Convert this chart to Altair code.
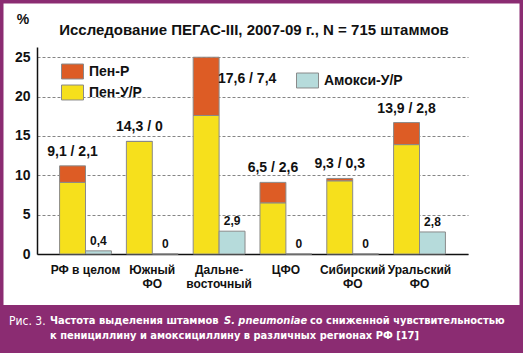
import altair as alt
import pandas as pd

# ---- data ----
regions = ["РФ в целом", "Южный\nФО", "Дальне-\nвосточный", "ЦФО", "Сибирский\nФО", "Уральский\nФО"]
pen_ur = [9.1, 14.3, 17.6, 6.5, 9.3, 13.9]   # Пен-У/Р
pen_r = [2.1, 0.0, 7.4, 2.6, 0.3, 2.8]       # Пен-Р
amox_ur = [0.4, 0.0, 2.9, 0.0, 0.0, 2.8]     # Амокси-У/Р
y_ticks = [0, 5, 10, 15, 20, 25]

title_text = "Исследование ПЕГАС-III, 2007-09 г., N = 715 штаммов"
cap_fig = "Рис. 3."
cap_a = "Частота выделения штаммов"
cap_b = "S. pneumoniae"
cap_c = "со сниженной чувствительностью"
cap_d = "к пенициллину и амоксициллину в различных регионах РФ [17]"

ORANGE = "#DD5C25"
YELLOW = "#F6E01C"
BLUE = "#B6DBDB"
PURPLE = "#8B2C72"
GRAY = "#8a8a8a"
FONT = "Liberation Sans"
NARROW = "Liberation Sans Narrow, DejaVu Sans Condensed, Roboto, sans-serif"


def fmt(v):
    return "0" if v == 0 else f"{v:.1f}".replace(".", ",")


pen_rows = []
for r, a, b in zip(regions, pen_ur, pen_r):
    pen_rows.append(dict(region=r, slot="pen", pen_series="Пен-У/Р", ord=0, value=a))
    pen_rows.append(dict(region=r, slot="pen", pen_series="Пен-Р", ord=1, value=b))
pen_df = pd.DataFrame(pen_rows)

amox_df = pd.DataFrame(dict(region=regions, slot="amox", amox_series="Амокси-У/Р",
                            value=amox_ur, label=[fmt(v) for v in amox_ur]))

lab_df = pd.DataFrame(dict(region=regions, slot="pen",
                           total=[a + b for a, b in zip(pen_ur, pen_r)],
                           label=[f"{fmt(a)} / {fmt(b)}" for a, b in zip(pen_ur, pen_r)]))

one = alt.Data(values=[{"a": 1}])

x_enc = alt.X("region:N", sort=regions,
              scale=alt.Scale(paddingInner=0.224, paddingOuter=0.338),
              axis=alt.Axis(title=None, labelExpr="split(datum.value, '\\n')",
                            labelAngle=0, labelFont=FONT, labelFontSize=12,
                            labelFontWeight="bold", labelColor="#111",
                            labelPadding=10, labelLineHeight=14, ticks=False,
                            domainColor="#111", domainWidth=1.5, labelBaseline="top"))
xo_enc = alt.XOffset("slot:N", scale=alt.Scale(domain=["pen", "amox"], paddingInner=0, paddingOuter=0))
y_scale = alt.Scale(domain=[0, 26.3], nice=False)
y_axis = alt.Axis(title=None, values=y_ticks, labelFont=FONT, labelFontSize=14,
                  labelFontWeight="bold", labelColor="#111", labelPadding=7,
                  ticks=False, domainColor="#111", domainWidth=1.5,
                  grid=True, gridDash=[3, 2], gridColor="#666", gridWidth=0.8)

rect_path = "M-1,-0.68H1V0.68H-1Z"

# frame and caption band
frame = alt.Chart(one).mark_rect(fill=None, stroke=PURPLE, strokeWidth=7).encode(
    x=alt.value(-37), x2=alt.value(486), y=alt.value(-47), y2=alt.value(306))
band = alt.Chart(one).mark_rect(color=PURPLE).encode(
    x=alt.value(-37), x2=alt.value(486), y=alt.value(258), y2=alt.value(306))

pen_bars = alt.Chart(pen_df).mark_bar(stroke=GRAY, strokeWidth=1).encode(
    x=x_enc, xOffset=xo_enc,
    y=alt.Y("value:Q", stack="zero", scale=y_scale, axis=y_axis),
    color=alt.Color("pen_series:N",
                    scale=alt.Scale(domain=["Пен-Р", "Пен-У/Р"], range=[ORANGE, YELLOW]),
                    legend=alt.Legend(title=None, orient="none", legendX=24, legendY=13,
                                      symbolType=rect_path, symbolSize=484,
                                      symbolStrokeColor=GRAY, symbolStrokeWidth=1,
                                      symbolOpacity=1,
                                      labelFont=FONT, labelFontSize=14, labelFontWeight="bold",
                                      labelColor="#111", labelOffset=5, rowPadding=-4)),
    order=alt.Order("ord:Q"),
)

amox_bars = alt.Chart(amox_df).mark_bar(stroke=GRAY, strokeWidth=1).encode(
    x=x_enc, xOffset=xo_enc,
    y=alt.Y("value:Q", scale=y_scale, axis=y_axis),
    fill=alt.Fill("amox_series:N",
                  scale=alt.Scale(domain=["Амокси-У/Р"], range=[BLUE]),
                  legend=alt.Legend(title=None, orient="none", legendX=259, legendY=22,
                                    symbolType=rect_path, symbolSize=484,
                                    symbolStrokeColor=GRAY, symbolStrokeWidth=1,
                                    symbolOpacity=1,
                                    labelFont=FONT, labelFontSize=14, labelFontWeight="bold",
                                    labelColor="#111", labelOffset=5)),
)

top_labels = alt.Chart(lab_df).transform_filter("datum.total < 25").mark_text(
    font=FONT, fontSize=14, fontWeight="bold", color="#111", baseline="middle", dy=-14
).encode(x=x_enc, xOffset=xo_enc, y=alt.Y("total:Q", scale=y_scale, axis=y_axis), text="label:N")

side_labels = alt.Chart(lab_df).transform_filter("datum.total >= 25").mark_text(
    font=FONT, fontSize=14, fontWeight="bold", color="#111", baseline="middle",
    dx=41, dy=22
).encode(x=x_enc, xOffset=xo_enc, y=alt.Y("total:Q", scale=y_scale, axis=y_axis), text="label:N")

amox_labels = alt.Chart(amox_df).mark_text(
    font=FONT, fontSize=12, fontWeight="bold", color="#111", baseline="bottom", dy=-3
).encode(x=x_enc, xOffset=xo_enc, y=alt.Y("value:Q", scale=y_scale, axis=y_axis), text="label:N")

title = alt.Chart(one).mark_text(font=FONT, fontSize=15, fontWeight="bold", color="#111",
                                 baseline="middle", align="center").encode(
    x=alt.value(217), y=alt.value(-17), text=alt.value(title_text))
pct = alt.Chart(one).mark_text(font=FONT, fontSize=14, fontWeight="bold", color="#111",
                               baseline="middle", align="center").encode(
    x=alt.value(-14), y=alt.value(-27), text=alt.value("%"))


def cap(txt, x, y, weight="bold", style="normal", size=11):
    return alt.Chart(one).mark_text(font=NARROW, fontSize=size, fontWeight=weight, fontStyle=style,
                                    color="white", baseline="middle", align="left").encode(
        x=alt.value(x), y=alt.value(y), text=alt.value(txt))


caption = [
    cap(cap_fig, -28, 274, weight="normal", size=12),
    cap(cap_a, 13, 274),
    cap(cap_b, 187, 274, style="italic"),
    cap(cap_c, 273, 274),
    cap(cap_d, 13, 289),
]

chart = alt.layer(frame, band, pen_bars, amox_bars, top_labels, side_labels, amox_labels,
                  title, pct, *caption).properties(
    width=431, height=207,
    padding={"left": 37, "top": 47, "right": 55, "bottom": 99},
    autosize=alt.AutoSizeParams(type="none"),
    background="white",
).resolve_scale(x="shared").configure_view(stroke=None)

chart.save("out.html", embed_options={"renderer": "svg", "actions": False})
